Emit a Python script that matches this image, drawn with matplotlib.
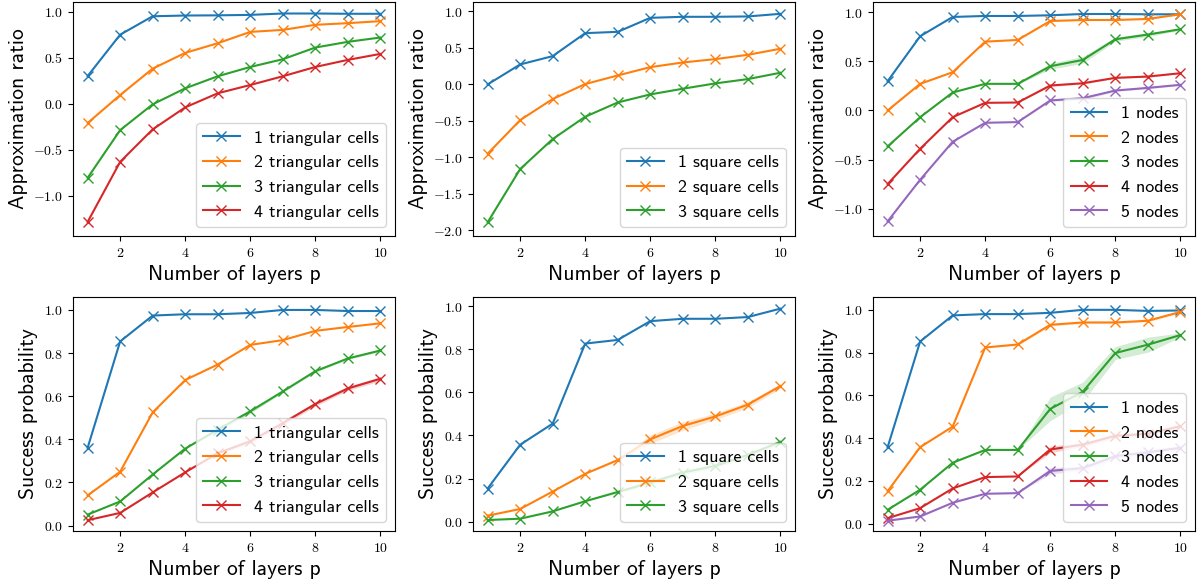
import matplotlib
matplotlib.use("Agg")
import matplotlib.pyplot as plt
import numpy as np
from matplotlib.ticker import FuncFormatter

plt.rcParams["mathtext.fontset"] = "cm"

layers = [1, 2, 3, 4, 5, 6, 7, 8, 9, 10]

# approximation ratio, triangular cells
tri_ratio = [
    [0.30, 0.75, 0.95, 0.958, 0.96, 0.965, 0.98, 0.98, 0.977, 0.977],
    [-0.21, 0.094, 0.381, 0.552, 0.657, 0.78, 0.802, 0.857, 0.875, 0.897],
    [-0.806, -0.287, -0.007, 0.167, 0.298, 0.399, 0.483, 0.61, 0.672, 0.719],
    [-1.285, -0.632, -0.279, -0.04, 0.113, 0.203, 0.298, 0.399, 0.476, 0.541],
]
tri_labels = ["1 triangular cells", "2 triangular cells", "3 triangular cells", "4 triangular cells"]

# approximation ratio, square cells
sq_ratio = [
    [0.0, 0.274, 0.388, 0.703, 0.721, 0.913, 0.927, 0.927, 0.932, 0.968],
    [-0.95, -0.489, -0.2, 0.005, 0.123, 0.237, 0.301, 0.347, 0.406, 0.489],
    [-1.89, -1.16, -0.749, -0.443, -0.247, -0.137, -0.059, 0.014, 0.073, 0.16],
]
sq_labels = ["1 square cells", "2 square cells", "3 square cells"]

# approximation ratio, nodes
node_ratio = [
    [0.298, 0.755, 0.951, 0.961, 0.961, 0.968, 0.981, 0.981, 0.978, 0.978],
    [0.0, 0.271, 0.389, 0.70, 0.717, 0.91, 0.92, 0.92, 0.931, 0.978],
    [-0.365, -0.068, 0.183, 0.271, 0.271, 0.45, 0.514, 0.724, 0.772, 0.826],
    [-0.748, -0.389, -0.068, 0.078, 0.081, 0.254, 0.277, 0.332, 0.345, 0.379],
    [-1.127, -0.704, -0.318, -0.125, -0.118, 0.102, 0.125, 0.203, 0.23, 0.261],
]
node_ratio_std = [
    [0, 0, 0, 0, 0, 0, 0, 0, 0, 0],
    [0, 0, 0, 0, 0, 0.005, 0.005, 0.005, 0.005, 0.005],
    [0, 0, 0, 0, 0.005, 0.03, 0.035, 0.02, 0.02, 0.01],
    [0, 0, 0, 0, 0, 0.01, 0.01, 0.005, 0.005, 0.005],
    [0, 0, 0, 0, 0, 0.01, 0.015, 0.01, 0.01, 0.005],
]
node_labels = ["1 nodes", "2 nodes", "3 nodes", "4 nodes", "5 nodes"]

# success probability, triangular cells
tri_prob = [
    [0.361, 0.854, 0.974, 0.98, 0.98, 0.986, 1.0, 1.0, 0.995, 0.995],
    [0.14, 0.25, 0.525, 0.675, 0.747, 0.838, 0.86, 0.903, 0.921, 0.938],
    [0.051, 0.112, 0.237, 0.357, 0.445, 0.53, 0.622, 0.716, 0.775, 0.812],
    [0.025, 0.059, 0.154, 0.247, 0.336, 0.391, 0.475, 0.564, 0.636, 0.681],
]
tri_prob_std = [
    [0, 0, 0, 0, 0, 0, 0, 0, 0, 0],
    [0, 0, 0, 0, 0, 0, 0, 0, 0, 0],
    [0, 0, 0, 0, 0.005, 0.01, 0.005, 0.005, 0.005, 0.005],
    [0, 0, 0, 0, 0.005, 0.01, 0.01, 0.01, 0.01, 0.01],
]

# success probability, square cells
sq_prob = [
    [0.154, 0.357, 0.455, 0.826, 0.843, 0.93, 0.941, 0.941, 0.949, 0.988],
    [0.028, 0.059, 0.14, 0.222, 0.286, 0.382, 0.444, 0.488, 0.543, 0.629],
    [0.008, 0.014, 0.048, 0.095, 0.138, 0.182, 0.228, 0.259, 0.31, 0.37],
]
sq_prob_std = [
    [0, 0, 0, 0, 0, 0, 0, 0, 0, 0],
    [0, 0, 0, 0, 0.005, 0.02, 0.02, 0.015, 0.015, 0.01],
    [0, 0, 0, 0, 0.005, 0.01, 0.01, 0.01, 0.01, 0.01],
]

# success probability, nodes
node_prob = [
    [0.358, 0.852, 0.974, 0.98, 0.98, 0.986, 1.0, 1.0, 0.995, 0.997],
    [0.152, 0.358, 0.454, 0.824, 0.838, 0.93, 0.941, 0.941, 0.949, 0.99],
    [0.065, 0.159, 0.285, 0.345, 0.345, 0.537, 0.617, 0.798, 0.837, 0.882],
    [0.026, 0.073, 0.165, 0.218, 0.221, 0.347, 0.37, 0.411, 0.42, 0.456],
    [0.014, 0.034, 0.098, 0.14, 0.143, 0.247, 0.26, 0.316, 0.334, 0.355],
]
node_prob_std = [
    [0, 0, 0, 0, 0, 0, 0, 0, 0, 0],
    [0, 0, 0, 0, 0.005, 0.005, 0.005, 0.005, 0.005, 0.005],
    [0, 0, 0, 0, 0, 0.055, 0.045, 0.03, 0.035, 0.01],
    [0, 0, 0, 0, 0, 0.015, 0.01, 0.01, 0.01, 0.01],
    [0, 0, 0, 0, 0, 0.015, 0.01, 0.01, 0.01, 0.01],
]

W, H = 1201, 585
fig = plt.figure(figsize=(W / 100, H / 100), dpi=100)


def tick_fmt(decimals):
    return FuncFormatter(lambda v, pos: f"${v + 0.0:.{decimals}f}$")


def panel(col, row, series, labels, ylabel, ylim, std=None):
    left = 73 + 400 * col
    right = 395 + 400 * col
    top, bottom = [(2, 236), (297, 531)][row]
    ax = fig.add_axes([left / W, 1 - bottom / H, (right - left) / W, (bottom - top) / H])
    for i, (vals, lab) in enumerate(zip(series, labels)):
        color = f"C{i}"
        ax.plot(layers, vals, marker="x", markersize=7, color=color, label=lab)
        if std is not None:
            v = np.array(vals)
            s = np.array(std[i])
            ax.fill_between(layers, v - s, v + s, color=color, alpha=0.2, linewidth=0)
    ax.set_ylim(*ylim)
    ax.xaxis.set_major_formatter(tick_fmt(0))
    ax.yaxis.set_major_formatter(tick_fmt(1))
    ax.tick_params(labelsize=10)
    ax.set_xlabel("Number of layers p", family="cmss10", fontsize=15.5)
    ax.set_ylabel(ylabel, family="cmss10", fontsize=15.5)
    ax.legend(loc="lower right", prop={"family": "cmss10", "size": 13})
    return ax


panel(0, 0, tri_ratio, tri_labels, "Approximation ratio", (-1.438, 1.105))
panel(1, 0, sq_ratio, sq_labels, "Approximation ratio", (-2.078, 1.13))
panel(2, 0, node_ratio, node_labels, "Approximation ratio", (-1.276, 1.103), node_ratio_std)
panel(0, 1, tri_prob, tri_labels, "Success probability", (-0.025, 1.06), tri_prob_std)
panel(1, 1, sq_prob, sq_labels, "Success probability", (-0.043, 1.042), sq_prob_std)
panel(2, 1, node_prob, node_labels, "Success probability", (-0.034, 1.06), node_prob_std)

fig.savefig("out.png", dpi=100)
